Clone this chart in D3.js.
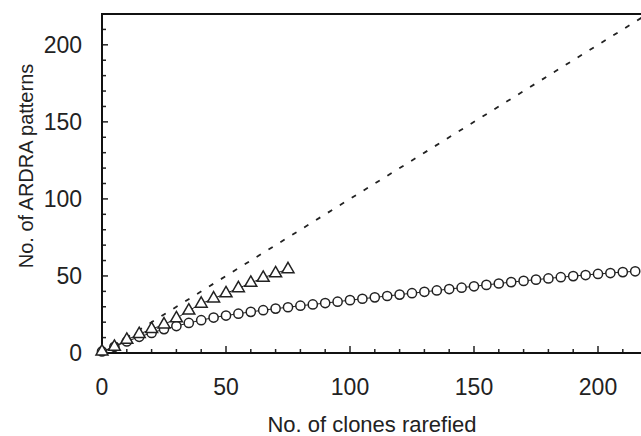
<!DOCTYPE html>
<html>
<head>
<meta charset="utf-8">
<script src="https://cdn.jsdelivr.net/npm/d3@7"></script>
<style>
  html, body { margin: 0; padding: 0; background: #fff; }
  svg { display: block; }
  text { font-family: "Liberation Sans", Arial, sans-serif; fill: #222; }
</style>
</head>
<body>
<svg id="chart" width="641" height="436"></svg>
<script>
// Rarefaction curves, values
const xTicks = [0, 50, 100, 150, 200];
const yTicks = [0, 50, 100, 150, 200];

const circleX = d3.range(0, 216, 5);
const circleY = [1, 4, 7.5, 10.5, 13, 15.5, 17.5, 19.5, 21.3, 23,
  24.3, 25.5, 26.7, 27.8, 28.8, 29.7, 30.7, 31.5, 32.4, 33.3,
  34.3, 35.2, 36.1, 37, 37.9, 38.8, 39.7, 40.6, 41.5, 42.4,
  43.3, 44.2, 45.1, 46, 46.8, 47.6, 48.4, 49.2, 49.9, 50.6,
  51.3, 51.9, 52.5, 53];

const triangleX = d3.range(0, 76, 5);
const triangleY = [1, 4, 8.5, 12.3, 15.5, 18.5, 22.5, 27.5, 32, 35.4,
  38.7, 42, 45.5, 48.8, 51.7, 54.4];

// 1:1 reference (dashed)
const dashedX = [0, 218];
const dashedY = [0, 218];

const svg = d3.select('#chart');
const margin = {left: 102, top: 14, bottom: 83};
const height = 436;

const x = d3.scaleLinear()
  .domain([0, 220])
  .range([margin.left, margin.left + 220 * 2.48]);

const y = d3.scaleLinear()
  .domain([0, 220])
  .range([height - margin.bottom, margin.top]);

const toPoints = (xs, ys) => xs.map((d, i) => ({x: d, y: ys[i]}));
const circles = toPoints(circleX, circleY);
const triangles = toPoints(triangleX, triangleY);
const dashed = toPoints(dashedX, dashedY);

const line = d3.line()
  .x(d => x(d.x))
  .y(d => y(d.y));

// Minor ticks every 10, inward
const minorX = d3.range(0, 221, 10);
const minorY = d3.range(0, 221, 10);

svg.append('g')
  .selectAll('line')
  .data(minorX)
  .enter()
  .append('line')
    .attr('x1', d => x(d))
    .attr('x2', d => x(d))
    .attr('y1', y(0))
    .attr('y2', d => y(0) - (d % 50 === 0 ? 7 : 4))
    .attr('stroke', '#222')
    .attr('stroke-width', 1.5);

svg.append('g')
  .selectAll('line')
  .data(minorY)
  .enter()
  .append('line')
    .attr('y1', d => y(d))
    .attr('y2', d => y(d))
    .attr('x1', x(0))
    .attr('x2', d => x(0) + (d % 50 === 0 ? 6 : 4))
    .attr('stroke', '#222')
    .attr('stroke-width', 1.5);

// Frame: left, bottom, top
svg.append('path')
  .attr('d', `M${x(0)},${y(0)} H641 M${x(0)},${y(0)} V${y(220)} H641`)
  .attr('fill', 'none')
  .attr('stroke', '#111')
  .attr('stroke-width', 2);

// Tick labels
svg.append('g')
  .selectAll('text')
  .data(xTicks)
  .enter()
  .append('text')
    .attr('x', d => x(d))
    .attr('y', 395)
    .attr('text-anchor', 'middle')
    .style('font-size', '23px')
    .text(d => d);

svg.append('g')
  .selectAll('text')
  .data(yTicks)
  .enter()
  .append('text')
    .attr('x', 82)
    .attr('y', d => y(d))
    .attr('dy', '0.36em')
    .attr('text-anchor', 'end')
    .style('font-size', '23px')
    .text(d => d);

// Axis titles
svg.append('text')
  .attr('x', 372)
  .attr('y', 432)
  .attr('text-anchor', 'middle')
  .style('font-size', '22px')
  .text('No. of clones rarefied');

svg.append('text')
  .attr('transform', 'translate(33,166) rotate(-90)')
  .attr('text-anchor', 'middle')
  .style('font-size', '20px')
  .text('No. of ARDRA patterns');

// Series
const plot = svg.append('g');

plot.append('path')
  .attr('d', line(dashed))
  .attr('fill', 'none')
  .attr('stroke', '#222')
  .attr('stroke-width', 1.8)
  .attr('stroke-dasharray', '5,9');

plot.append('path')
  .attr('d', line(circles))
  .attr('fill', 'none')
  .attr('stroke', '#222')
  .attr('stroke-width', 1);

plot.selectAll('circle')
  .data(circles)
  .enter()
  .append('circle')
    .attr('cx', d => x(d.x))
    .attr('cy', d => y(d.y))
    .attr('r', 4.6)
    .attr('fill', '#fff')
    .attr('stroke', '#222')
    .attr('stroke-width', 1.5);

plot.append('path')
  .attr('d', line(triangles))
  .attr('fill', 'none')
  .attr('stroke', '#222')
  .attr('stroke-width', 1);

plot.selectAll('.tri')
  .data(triangles)
  .enter()
  .append('path')
    .attr('class', 'tri')
    .attr('d', d3.symbol(d3.symbolTriangle, 62))
    .attr('transform', d => `translate(${x(d.x)},${y(d.y)})`)
    .attr('fill', '#fff')
    .attr('stroke', '#222')
    .attr('stroke-width', 1.5);
</script>
</body>
</html>
